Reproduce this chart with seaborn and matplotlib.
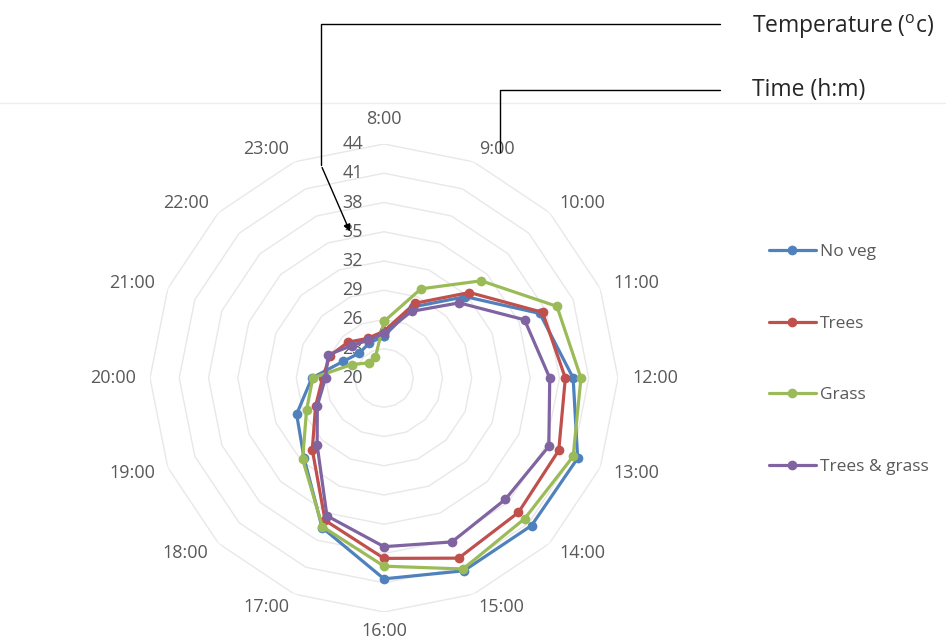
import numpy as np
import pandas as pd
import matplotlib
matplotlib.use("Agg")
import matplotlib.pyplot as plt
import matplotlib.transforms as mtransforms
from matplotlib.lines import Line2D
import seaborn as sns

# ---------------- data ----------------
times = ["8:00", "9:00", "10:00", "11:00", "12:00", "13:00", "14:00", "15:00",
         "16:00", "17:00", "18:00", "19:00", "20:00", "21:00", "22:00", "23:00"]
no_veg = [24.3, 27.9, 31.8, 37.3, 39.4, 41.5, 41.4, 41.4,
          40.6, 36.6, 31.6, 29.7, 27.4, 24.5, 23.6, 23.9]
trees = [24.8, 28.3, 32.4, 37.6, 38.6, 39.4, 39.5, 40.0,
         38.5, 35.8, 30.4, 27.6, 26.3, 26.0, 25.2, 24.4]
grass = [25.8, 29.9, 34.1, 39.2, 40.2, 41.0, 40.4, 41.2,
         39.3, 36.5, 31.8, 28.6, 27.3, 23.6, 22.2, 22.3]
trees_grass = [24.6, 27.4, 30.9, 35.6, 37.0, 38.3, 37.6, 38.2,
               37.3, 35.3, 29.7, 27.4, 26.0, 26.2, 24.7, 24.2]
series_names = ["No veg", "Trees", "Grass", "Trees & grass"]
r_ticks = [20, 23, 26, 29, 32, 35, 38, 41, 44]
colors = ["#4F81BD", "#C0504D", "#9BBB59", "#8064A2"]

# ---------------- style ----------------
sns.set_theme(style="white")
plt.rcParams["font.family"] = ["Open Sans", "DejaVu Sans"]
plt.rcParams["mathtext.fontset"] = "custom"
plt.rcParams["mathtext.rm"] = "Open Sans"

W, H = 946, 641
fig = plt.figure(figsize=(W / 100, H / 100), dpi=100)
fig.patch.set_facecolor("white")

cx, cy, R = 384, 378, 234
ax = fig.add_axes([(cx - R) / W, (H - cy - R) / H, 2 * R / W, 2 * R / H],
                  projection="polar")
ax.set_theta_zero_location("N")
ax.set_theta_direction(-1)

n = len(times)
theta = np.arange(n) * 2 * np.pi / n

rows = []
for name, vals in zip(series_names, [no_veg, trees, grass, trees_grass]):
    for j, k in enumerate(list(range(n)) + [0]):
        th = theta[k] + (2 * np.pi if j == n else 0.0)
        rows.append({"series": name, "order": j, "theta": th, "temp": vals[k]})
df = pd.DataFrame(rows)

# gridlines (polygons)
r0, r1 = r_ticks[0], r_ticks[-1]
for r in r_ticks[1:]:
    ax.plot(np.append(theta, 2 * np.pi), [r] * (n + 1), color="#e8e8e8",
            lw=1.0, zorder=0)

sns.lineplot(data=df, x="theta", y="temp", hue="series", hue_order=series_names,
             palette=colors, sort=False, estimator=None, marker="o",
             markersize=7, markeredgewidth=0, linewidth=2.3, ax=ax, zorder=3)

ax.set_ylim(r0, r1)
ax.grid(False)
ax.spines["polar"].set_visible(False)
ax.set_xticks([])
ax.set_yticks([])
ax.set_xlabel("")
ax.set_ylabel("")
ax.set_facecolor("none")

txt_color = "#595959"
fs = 13

# radial tick labels
off = mtransforms.offset_copy(ax.transData, fig=fig, x=-21, y=0, units="dots")
for r in r_ticks:
    ax.text(0, r, str(r), transform=off, ha="right", va="center",
            fontsize=fs, color=txt_color, zorder=2)

# category labels: anchored just outside the outer ring
for k, t in enumerate(times):
    s, c = np.sin(theta[k]), np.cos(theta[k])
    ha = "center" if abs(s) < 0.1 else ("left" if s > 0 else "right")
    if c > 0.95:
        va, d = "bottom", 250
    elif c < -0.95:
        va, d = "top", 244
    else:
        va, d = "center", 248
    rr = r0 + d / R * (r1 - r0)
    ax.text(theta[k], rr, t, ha=ha, va=va, fontsize=fs,
            color=txt_color, clip_on=False)

# legend
handles, labels = ax.get_legend_handles_labels()
if ax.get_legend() is not None:
    ax.get_legend().remove()
fig.legend(handles, labels, loc="center left",
           bbox_to_anchor=(753 / W, 1 - 359.5 / H), frameon=False,
           fontsize=12.5, labelspacing=3.2, handlelength=2.7,
           handletextpad=0.25, labelcolor=txt_color)

# faint separator
fig.add_artist(Line2D([0, 1], [1 - 103 / H, 1 - 103 / H], transform=fig.transFigure,
                      color="#ededed", lw=1.0))


def fp(x, y):
    return x / W, 1 - y / H


# annotation leader lines
p = [fp(720, 24), fp(321, 24), fp(321, 165)]
fig.add_artist(Line2D([q[0] for q in p], [q[1] for q in p],
                      transform=fig.transFigure, color="black", lw=1.0))
fig.add_artist(matplotlib.patches.FancyArrowPatch(
    fp(321, 165), fp(351, 234), transform=fig.transFigure,
    arrowstyle="-|>", mutation_scale=10, color="black", lw=1.0))
p = [fp(720, 90), fp(500, 90), fp(500, 152)]
fig.add_artist(Line2D([q[0] for q in p], [q[1] for q in p],
                      transform=fig.transFigure, color="black", lw=1.0))

fig.text(752 / W, 1 - 27 / H, r"Temperature ($^{\mathrm{o}}$c)", fontsize=16.5,
         va="center", ha="left", color="#262626")
fig.text(752 / W, 1 - 90 / H, "Time (h:m)", fontsize=16.5,
         va="center", ha="left", color="#262626")

fig.savefig("out.png", dpi=100, facecolor="white")
